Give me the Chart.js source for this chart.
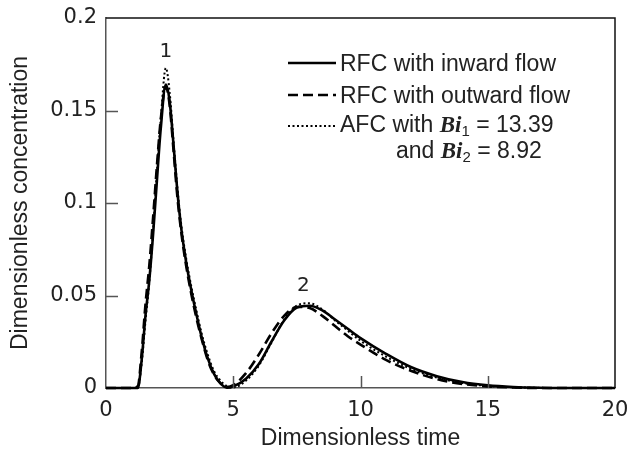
<!DOCTYPE html>
<html lang="en">
<head>
    <meta charset="UTF-8">
    <title>Dimensionless concentration vs time</title>
    <style>
        html, body { margin: 0; padding: 0; background: white; }
        .chart-container { width: 628px; height: 452px; }
    </style>
</head>
<body>
    <div class="chart-container">
        <canvas id="lineChart" width="628" height="452"></canvas>
    </div>

    <script src="https://cdn.jsdelivr.net/npm/chart.js"></script>
    <script>
        // data
        const time = [0, 1.0, 1.25, 1.4, 1.55, 1.7, 1.85, 2.0, 2.15, 2.35, 2.5, 2.65, 2.8, 2.95, 3.15, 3.35, 3.55, 3.75,
                      4.0, 4.25, 4.5, 4.75, 5.0, 5.5, 6.0, 6.5, 7.0, 7.5, 8.0, 8.5, 9.0, 9.5, 10, 11, 12, 13, 14, 15, 16, 17, 18, 20];
        const inwardFlow = [0, 0, 0, 0.015, 0.039, 0.058, 0.083, 0.112, 0.140, 0.164, 0.155, 0.132, 0.107, 0.087, 0.068, 0.053, 0.040, 0.028,
                      0.016, 0.0075, 0.0025, 0.0002, 0.0008, 0.005, 0.0128, 0.025, 0.0365, 0.0435, 0.0445, 0.042, 0.037, 0.032, 0.027, 0.0185, 0.0112, 0.0064, 0.0032, 0.0014, 0.0005, 0.0001, 0, 0];
        const outwardFlow = [0, 0, 0.001, 0.019, 0.045, 0.066, 0.092, 0.120, 0.145, 0.163, 0.153, 0.129, 0.104, 0.085, 0.066, 0.051, 0.038, 0.027,
                      0.015, 0.007, 0.0025, 0.0005, 0.0015, 0.008, 0.018, 0.0295, 0.039, 0.0438, 0.0432, 0.039, 0.0335, 0.028, 0.0235, 0.0152, 0.0092, 0.0048, 0.0022, 0.0009, 0.0003, 0, 0, 0];
        const afc = [0, 0, 0, 0.013, 0.036, 0.057, 0.085, 0.117, 0.145, 0.173, 0.160, 0.134, 0.109, 0.089, 0.070, 0.055, 0.042, 0.030,
                      0.018, 0.009, 0.004, 0.001, 0.0003, 0.004, 0.012, 0.0245, 0.037, 0.0445, 0.0458, 0.0425, 0.0365, 0.031, 0.0255, 0.017, 0.0102, 0.0056, 0.0027, 0.0011, 0.0004, 0.0001, 0, 0];

        const seriesNames = ['RFC with inward flow', 'RFC with outward flow', 'AFC with Bi1 = 13.39 and Bi2 = 8.92'];
        const biValues = ['13.39', '8.92'];
        const xTicks = [0, 5, 10, 15, 20];
        const yTicks = [0, 0.05, 0.1, 0.15, 0.2];
        const yTickLabels = ['0', '0.05', '0.1', '0.15', '0.2'];
        const peakLabels = [{ text: '1', x: 2.35, y: 0.182 }, { text: '2', x: 7.75, y: 0.055 }];

        const textFont = '"Liberation Sans", Arial, sans-serif';
        const tickFont = '"DejaVu Sans", sans-serif';

        function pts(ys) {
            return time.map((t, i) => ({ x: t, y: ys[i] }));
        }

        // frame, inward ticks, peak numbers and the legend
        const decorations = {
            id: 'decorations',
            afterDraw(chart) {
                const { ctx, chartArea: a, scales } = chart;
                const xs = scales.x, ys = scales.y;
                ctx.save();

                ctx.strokeStyle = '#555';
                ctx.lineWidth = 1.5;
                ctx.beginPath();
                xTicks.slice(1, -1).forEach(v => {
                    const px = Math.round(xs.getPixelForValue(v)) + 0.5;
                    ctx.moveTo(px, a.bottom); ctx.lineTo(px, a.bottom - 12);
                });
                yTicks.slice(1, -1).forEach(v => {
                    const py = Math.round(ys.getPixelForValue(v)) + 0.5;
                    ctx.moveTo(a.left, py); ctx.lineTo(a.left + 12, py);
                });
                ctx.stroke();

                ctx.strokeStyle = '#111';
                ctx.beginPath();
                ctx.moveTo(a.left, a.top); ctx.lineTo(a.right, a.top); ctx.lineTo(a.right, a.bottom);
                ctx.stroke();

                ctx.fillStyle = '#222';
                ctx.font = '20px ' + tickFont;
                ctx.textAlign = 'center';
                ctx.textBaseline = 'middle';
                peakLabels.forEach(p => {
                    ctx.fillText(p.text, xs.getPixelForValue(p.x), ys.getPixelForValue(p.y));
                });

                // legend
                const lx0 = 288, lx1 = 336, tx = 340;
                const rows = [63, 95, 126];
                const dashes = [[], [10, 5], [2, 2.5]];
                const widths = [2.5, 2.5, 1.8];
                rows.forEach((y, i) => {
                    ctx.setLineDash(dashes[i]);
                    ctx.lineWidth = widths[i];
                    ctx.strokeStyle = '#000';
                    ctx.beginPath();
                    ctx.moveTo(lx0, y); ctx.lineTo(lx1, y);
                    ctx.stroke();
                });
                ctx.setLineDash([]);
                ctx.textAlign = 'left';
                ctx.textBaseline = 'alphabetic';
                ctx.font = '23px ' + textFont;
                ctx.fillText(seriesNames[0], tx, 71);
                ctx.fillText(seriesNames[1], tx, 103);

                const biFont = 'italic bold 23px "Liberation Serif", "DejaVu Serif", serif';
                const subFont = '15px ' + textFont;
                function biRow(x, y, prefix, sub, val) {
                    ctx.font = '23px ' + textFont;
                    ctx.fillText(prefix, x, y);
                    x += ctx.measureText(prefix).width;
                    ctx.font = biFont;
                    ctx.fillText('Bi', x, y);
                    x += ctx.measureText('Bi').width;
                    ctx.font = subFont;
                    ctx.fillText(sub, x, y + 4);
                    x += ctx.measureText(sub).width;
                    ctx.font = '23px ' + textFont;
                    ctx.fillText(' = ' + val, x, y);
                }
                biRow(tx, 132, 'AFC with ', '1', biValues[0]);
                biRow(396, 158, 'and ', '2', biValues[1]);

                ctx.restore();
            }
        };

        const ctx = document.getElementById('lineChart').getContext('2d');
        const common = { pointRadius: 0, borderColor: '#000', fill: false, cubicInterpolationMode: 'monotone', clip: false };
        const lineChart = new Chart(ctx, {
            type: 'line',
            data: {
                datasets: [
                    { ...common, label: seriesNames[0], data: pts(inwardFlow), borderWidth: 2.6 },
                    { ...common, label: seriesNames[1], data: pts(outwardFlow), borderWidth: 2.6, borderDash: [10, 5] },
                    { ...common, label: seriesNames[2], data: pts(afc), borderWidth: 2, borderDash: [2, 2.5] }
                ]
            },
            options: {
                responsive: false,
                animation: false,
                layout: { autoPadding: false, padding: { left: 0, top: 18, right: 13, bottom: 0 } },
                plugins: { legend: { display: false }, tooltip: { enabled: false } },
                scales: {
                    x: {
                        type: 'linear', min: 0, max: 20,
                        afterFit(scale) { scale.height = 64; scale.paddingLeft = 0; scale.paddingRight = 0; },
                        afterBuildTicks(scale) { scale.ticks = xTicks.map(v => ({ value: v })); },
                        grid: { display: false, drawTicks: false },
                        border: { display: true, color: '#555', width: 1.5 },
                        ticks: { color: '#222', font: { family: tickFont, size: 21 }, padding: 10, maxRotation: 0 },
                        title: { display: true, text: 'Dimensionless time', color: '#222',
                                 font: { family: textFont, size: 23 }, padding: { top: 0, bottom: 0 } }
                    },
                    y: {
                        type: 'linear', min: 0, max: 0.2,
                        afterFit(scale) { scale.width = 106; scale.paddingTop = 0; scale.paddingBottom = 0; },
                        afterBuildTicks(scale) { scale.ticks = yTicks.map(v => ({ value: v })); },
                        grid: { display: false, drawTicks: false },
                        border: { display: true, color: '#555', width: 1.5 },
                        ticks: { color: '#222', font: { family: tickFont, size: 21 }, padding: 9,
                                 callback: (v, i) => yTickLabels[i] },
                        title: { display: true, text: 'Dimensionless concentration', color: '#222',
                                 font: { family: textFont, size: 23 }, padding: { top: 7, bottom: 0 } }
                    }
                }
            },
            plugins: [decorations]
        });
    </script>
</body>
</html>
